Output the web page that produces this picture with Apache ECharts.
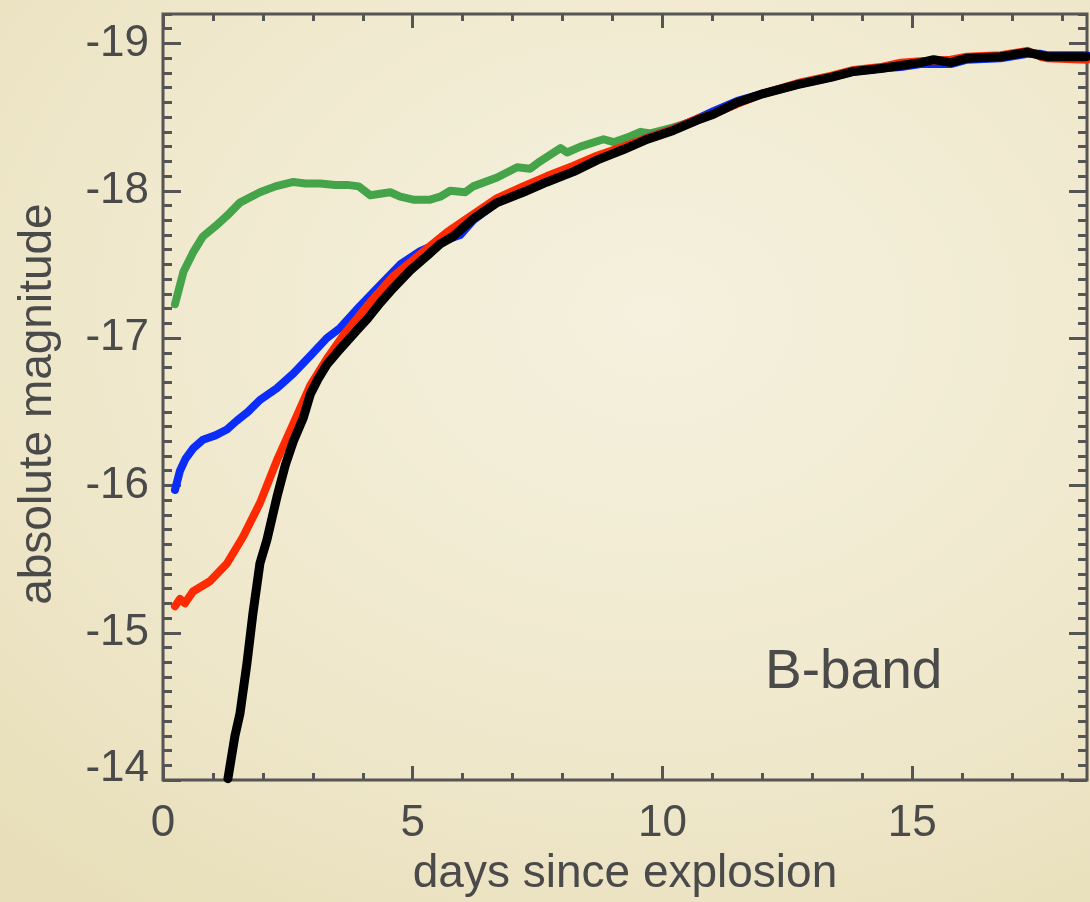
<!DOCTYPE html>
<html>
<head>
<meta charset="utf-8">
<script src="https://cdn.jsdelivr.net/npm/echarts@6/dist/echarts.min.js"></script>
<style>
  html, body { margin: 0; padding: 0; }
  body { width: 1090px; height: 902px; overflow: hidden;
    background: radial-gradient(ellipse 85% 80% at 60% 35%, #f5f1de 0%, #f0e9ce 55%, #e8dfba 100%); }
  #chart { width: 1090px; height: 902px; }
</style>
</head>
<body>
<div id="chart"></div>
<script>
// ---- data ----
const greenDays = [0.24,0.41,0.60,0.80,1.05,1.28,1.54,1.94,2.25,2.61,2.85,3.15,3.45,3.69,3.92,4.15,4.35,4.55,4.75,5.01,5.35,5.55,5.75,6.05,6.21,6.69,7.09,7.35,7.55,7.96,8.09,8.36,8.82,9.02,9.36,9.56,9.76,10.22,10.7,11.02,11.5,12.02,12.7,13.37,13.83,14.37,14.77,15.17,15.77,16.1,16.77,17.31,17.57,17.7,18.5];
const greenMag  = [-17.23,-17.45,-17.58,-17.69,-17.76,-17.83,-17.92,-17.99,-18.03,-18.06,-18.05,-18.05,-18.04,-18.04,-18.03,-17.97,-17.98,-17.99,-17.96,-17.94,-17.94,-17.96,-18.0,-17.99,-18.03,-18.09,-18.16,-18.15,-18.20,-18.29,-18.26,-18.30,-18.35,-18.33,-18.37,-18.40,-18.39,-18.43,-18.48,-18.52,-18.60,-18.66,-18.72,-18.77,-18.81,-18.83,-18.85,-18.87,-18.88,-18.90,-18.91,-18.94,-18.92,-18.91,-18.91];

const blueDays = [0.24,0.34,0.45,0.60,0.80,1.05,1.28,1.48,1.70,1.94,2.28,2.61,2.95,3.28,3.55,3.95,4.35,4.75,5.15,5.61,5.95,6.21,6.69,7.21,7.69,8.22,8.70,9.22,9.70,10.22,10.70,11.02,11.5,12.02,12.7,13.37,13.83,14.37,14.77,15.17,15.77,16.1,16.77,17.31,17.57,17.7,18.5];
const blueMag  = [-15.97,-16.10,-16.18,-16.25,-16.31,-16.34,-16.38,-16.44,-16.50,-16.58,-16.66,-16.76,-16.88,-17.00,-17.07,-17.22,-17.36,-17.50,-17.59,-17.66,-17.70,-17.80,-17.92,-18.00,-18.06,-18.14,-18.22,-18.29,-18.36,-18.42,-18.49,-18.54,-18.61,-18.66,-18.72,-18.77,-18.81,-18.83,-18.84,-18.86,-18.86,-18.89,-18.90,-18.93,-18.93,-18.92,-18.92];

const redDays = [0.24,0.34,0.44,0.60,0.94,1.28,1.60,1.94,2.28,2.61,2.95,3.28,3.61,4.09,4.61,5.29,5.69,6.21,6.69,7.21,7.69,8.22,8.70,9.22,9.70,10.22,10.70,11.02,11.5,12.02,12.7,13.37,13.83,14.37,14.77,15.17,15.77,16.1,16.77,17.31,17.57,17.7,18.5];
const redMag  = [-15.18,-15.23,-15.20,-15.28,-15.35,-15.47,-15.65,-15.88,-16.17,-16.42,-16.68,-16.86,-17.02,-17.22,-17.42,-17.61,-17.72,-17.84,-17.95,-18.03,-18.10,-18.17,-18.24,-18.30,-18.36,-18.42,-18.49,-18.52,-18.59,-18.66,-18.73,-18.78,-18.82,-18.84,-18.87,-18.88,-18.89,-18.91,-18.92,-18.95,-18.91,-18.90,-18.89];

const blackDays = [1.30,1.44,1.54,1.68,1.80,1.94,2.08,2.28,2.45,2.61,2.81,2.95,3.10,3.28,3.48,3.69,3.90,4.09,4.35,4.61,4.95,5.29,5.55,5.81,6.21,6.69,7.21,7.69,8.22,8.70,9.22,9.70,10.22,10.70,11.02,11.5,12.02,12.7,13.37,13.83,14.37,14.77,15.17,15.43,15.77,16.1,16.77,17.31,17.57,17.7,18.5];
const blackMag  = [-14.01,-14.30,-14.45,-14.79,-15.13,-15.47,-15.63,-15.92,-16.14,-16.30,-16.46,-16.62,-16.72,-16.82,-16.90,-16.98,-17.06,-17.13,-17.24,-17.34,-17.46,-17.56,-17.64,-17.69,-17.81,-17.92,-17.99,-18.06,-18.13,-18.21,-18.28,-18.35,-18.41,-18.48,-18.52,-18.60,-18.66,-18.72,-18.77,-18.81,-18.83,-18.85,-18.87,-18.89,-18.87,-18.90,-18.91,-18.94,-18.92,-18.91,-18.91];

// ---- axes / ticks ----
const xMin = 0, xMax = 18.5;
const yMin = -19.2, yMax = -14;
const xMajorTicks = [0, 5, 10, 15];
const xMinorTicks = [0,1,2,3,4,5,6,7,8,9,10,11,12,13,14,15,16,17,18];
const yMajorTicks = [-19, -18, -17, -16, -15, -14];
const yMinorTicks = [];
for (let i = -192; i <= -140; i++) yMinorTicks.push(i / 10);

const xTitle = 'days since explosion';
const yTitle = 'absolute magnitude';
const bandLabel = 'B-band';

const zip = (a, b) => a.map((v, i) => [v, b[i]]);

const axisColor = '#555555';
const textColor = '#4a4a4a';
const FONT = '"Liberation Sans", Arial, Helvetica, sans-serif';

function xAx(pos, ticks, len, labels) {
  return {
    type: 'value', position: pos, min: xMin, max: xMax, gridIndex: 0,
    axisLine: { show: false, onZero: false },
    splitLine: { show: false },
    axisTick: { show: true, inside: true, length: len, customValues: ticks,
      lineStyle: { color: axisColor, width: 3 } },
    axisLabel: labels ? { show: true, customValues: ticks, margin: 22, fontSize: 44,
      color: textColor, fontFamily: FONT } : { show: false },
    name: labels ? xTitle : '',
    nameLocation: 'middle', nameGap: 64,
    nameTextStyle: { fontSize: 46, color: textColor, fontFamily: FONT }
  };
}
function yAx(pos, ticks, len, labels) {
  return {
    type: 'value', position: pos, min: yMin, max: yMax, inverse: true, gridIndex: 0,
    axisLine: { show: false, onZero: false },
    splitLine: { show: false },
    axisTick: { show: true, inside: true, length: len, customValues: ticks,
      lineStyle: { color: axisColor, width: 3 } },
    axisLabel: labels ? { show: true, customValues: ticks, margin: 14, fontSize: 44,
      color: textColor, fontFamily: FONT,
      formatter: v => (v === -14 ? '{s|-14}' : String(v)),
      rich: { s: { fontSize: 44, color: textColor, fontFamily: FONT, padding: [0, 0, 22, 0] } }
    } : { show: false },
    name: labels ? yTitle : '',
    nameLocation: 'middle', nameGap: 102, nameRotate: 90,
    nameTextStyle: { fontSize: 46, color: textColor, fontFamily: FONT, padding: [0, 14, 0, 0] }
  };
}

function lineSeries(name, days, mags, color, width, z) {
  return {
    type: 'line', name: name, xAxisIndex: 0, yAxisIndex: 0,
    data: zip(days, mags), showSymbol: false, symbol: 'none', smooth: false, clip: true,
    lineStyle: { color: color, width: width, join: 'round', cap: 'round' }, z: z
  };
}

const chart = echarts.init(document.getElementById('chart'), null, { renderer: 'canvas' });
chart.setOption({
  animation: false,
  backgroundColor: 'transparent',
  grid: { left: 163, right: 3, top: 14, bottom: 118, show: true,
    borderColor: axisColor, borderWidth: 3, backgroundColor: 'transparent' },
  xAxis: [
    xAx('bottom', xMajorTicks, 14, true),
    xAx('bottom', xMinorTicks, 7, false),
    xAx('top', xMajorTicks, 14, false),
    xAx('top', xMinorTicks, 7, false)
  ],
  yAxis: [
    yAx('left', yMajorTicks, 18, true),
    yAx('left', yMinorTicks, 9, false),
    yAx('right', yMajorTicks, 18, false),
    yAx('right', yMinorTicks, 9, false)
  ],
  series: [
    lineSeries('green', greenDays, greenMag, '#45a349', 8, 2),
    lineSeries('blue', blueDays, blueMag, '#0a2dfa', 8, 3),
    lineSeries('red', redDays, redMag, '#ff2a00', 8, 4),
    lineSeries('black', blackDays, blackMag, '#000000', 9, 5)
  ],
  graphic: [{
    type: 'text', left: 765, top: 645,
    style: { text: bandLabel, fontSize: 55, fill: textColor, fontFamily: FONT }
  }]
});
</script>
</body>
</html>
